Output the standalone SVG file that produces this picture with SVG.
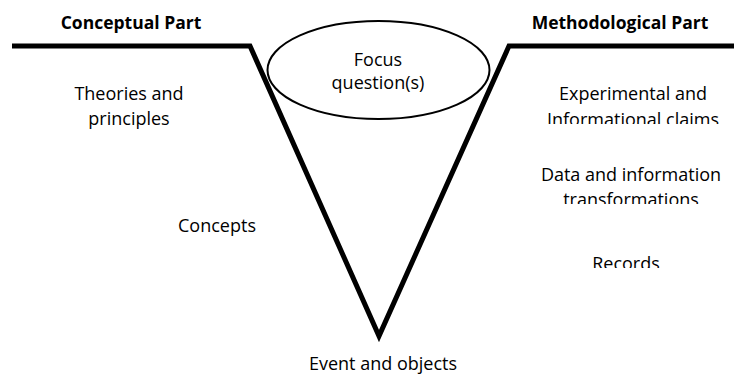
<svg xmlns="http://www.w3.org/2000/svg" width="734" height="374" viewBox="0 0 734 374">
<style>
.t{font-family:"Open Sans","Liberation Sans",sans-serif;font-size:18px;fill:#000;text-anchor:middle}
.b{font-weight:bold;font-size:17.5px}
.v{fill:none;stroke:#000;stroke-width:5;stroke-linejoin:miter;stroke-miterlimit:10}
</style>
<defs>
<clipPath id="c1"><rect x="540" y="100" width="194" height="24"/></clipPath>
<clipPath id="c2"><rect x="540" y="185" width="194" height="19"/></clipPath>
<clipPath id="c3"><rect x="560" y="245" width="140" height="23"/></clipPath>
</defs>
<rect width="734" height="374" fill="#fff"/>
<g id="connectors">
<polyline class="v" points="12,46 250,46 379,336 509,46 734,46"/>
</g>
<g id="focus">
<ellipse cx="378.5" cy="70" rx="111" ry="49" fill="none" stroke="#000" stroke-width="2"/>
<text class="t" x="378" y="66">Focus</text>
<text class="t" x="378" y="89">question(s)</text>
</g>
<g id="conceptual">
<text class="t b" x="131" y="29">Conceptual Part</text>
</g>
<g id="methodological">
<text class="t b" x="620" y="29">Methodological Part</text>
</g>
<g id="theories">
<text class="t" x="129" y="100">Theories and</text>
<text class="t" x="129" y="125">principles</text>
</g>
<g id="concepts">
<text class="t" x="217" y="232">Concepts</text>
</g>
<g id="claims">
<text class="t" x="633" y="100">Experimental and</text>
<text class="t" x="633" y="126" clip-path="url(#c1)">Informational claims</text>
</g>
<g id="transformations">
<text class="t" x="631" y="181">Data and information</text>
<text class="t" x="631" y="206" clip-path="url(#c2)">transformations</text>
</g>
<g id="records">
<text class="t" x="626" y="270" clip-path="url(#c3)">Records</text>
</g>
<g id="events">
<text class="t" x="383" y="370">Event and objects</text>
</g>
</svg>
